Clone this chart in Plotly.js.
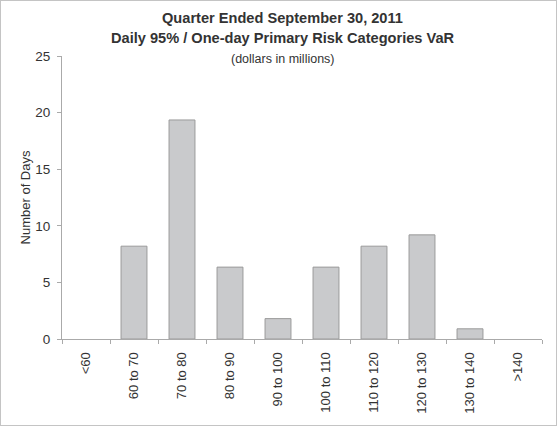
<!DOCTYPE html>
<html>
<head>
<meta charset="utf-8">
<script src="https://cdn.plot.ly/plotly-3.0.1.min.js"></script>
<style>
html,body{margin:0;padding:0;background:#fff;}
#chart{width:555px;height:424px;border:1px solid #c4c4c4;}
</style>
</head>
<body>
<div id="chart"></div>
<script>
const categories = ["<60","60 to 70","70 to 80","80 to 90","90 to 100","100 to 110","110 to 120","120 to 130","130 to 140",">140"];
const days = [0, 8.2, 19.35, 6.35, 1.8, 6.35, 8.2, 9.2, 0.9, 0];
const yTicks = [0, 5, 10, 15, 20, 25];
const titleLines = ["Quarter Ended September 30, 2011", "Daily 95% / One-day Primary Risk Categories VaR"];
const subtitle = "(dollars in millions)";

const FONT = "Liberation Sans, Arial, sans-serif";
const trace = {
  type: "bar",
  x: categories,
  y: days,
  width: 0.54,
  marker: {color: "#c9cacc", line: {color: "#9a9a9a", width: days.map(v => v > 0 ? 1 : 0)}},
  hoverinfo: "none"
};
const layout = {
  width: 555, height: 424,
  margin: {l: 61, r: 14, t: 55, b: 86},
  paper_bgcolor: "#ffffff",
  plot_bgcolor: "#ffffff",
  showlegend: false,
  font: {family: FONT, color: "#333333", size: 13},
  annotations: [
    {text: "<b>" + titleLines[0] + "</b>", xref: "paper", yref: "paper", x: 0.46, y: 1.134,
     xanchor: "center", yanchor: "middle", showarrow: false,
     font: {family: FONT, size: 14.6, color: "#333333"}},
    {text: "<b>" + titleLines[1] + "</b>", xref: "paper", yref: "paper", x: 0.46, y: 1.064,
     xanchor: "center", yanchor: "middle", showarrow: false,
     font: {family: FONT, size: 14.6, color: "#333333"}},
    {text: subtitle, xref: "paper", yref: "paper", x: 0.46, y: 0.99,
     xanchor: "center", yanchor: "middle", showarrow: false,
     font: {family: FONT, size: 12.5, color: "#333333"}}
  ],
  xaxis: {
    type: "category",
    tickangle: -90,
    tickson: "boundaries",
    ticks: "outside",
    ticklen: 4,
    tickcolor: "#aaaaaa",
    showline: true,
    linecolor: "#aaaaaa",
    linewidth: 1,
    showgrid: false,
    zeroline: false,
    ticklabelstandoff: 7,
    tickfont: {family: FONT, size: 13, color: "#333333"},
    fixedrange: true
  },
  yaxis: {
    range: [0, 25],
    tickvals: yTicks,
    ticktext: yTicks.map(String),
    ticks: "outside",
    ticklen: 4,
    tickcolor: "#aaaaaa",
    showline: true,
    linecolor: "#aaaaaa",
    linewidth: 1,
    showgrid: false,
    zeroline: false,
    ticklabelstandoff: 4,
    tickfont: {family: FONT, size: 13.5, color: "#333333"},
    title: {text: "Number of Days", font: {family: FONT, size: 13, color: "#333333"}, standoff: 1},
    fixedrange: true
  }
};
Plotly.newPlot("chart", [trace], layout, {displayModeBar: false, staticPlot: true});
</script>
</body>
</html>
